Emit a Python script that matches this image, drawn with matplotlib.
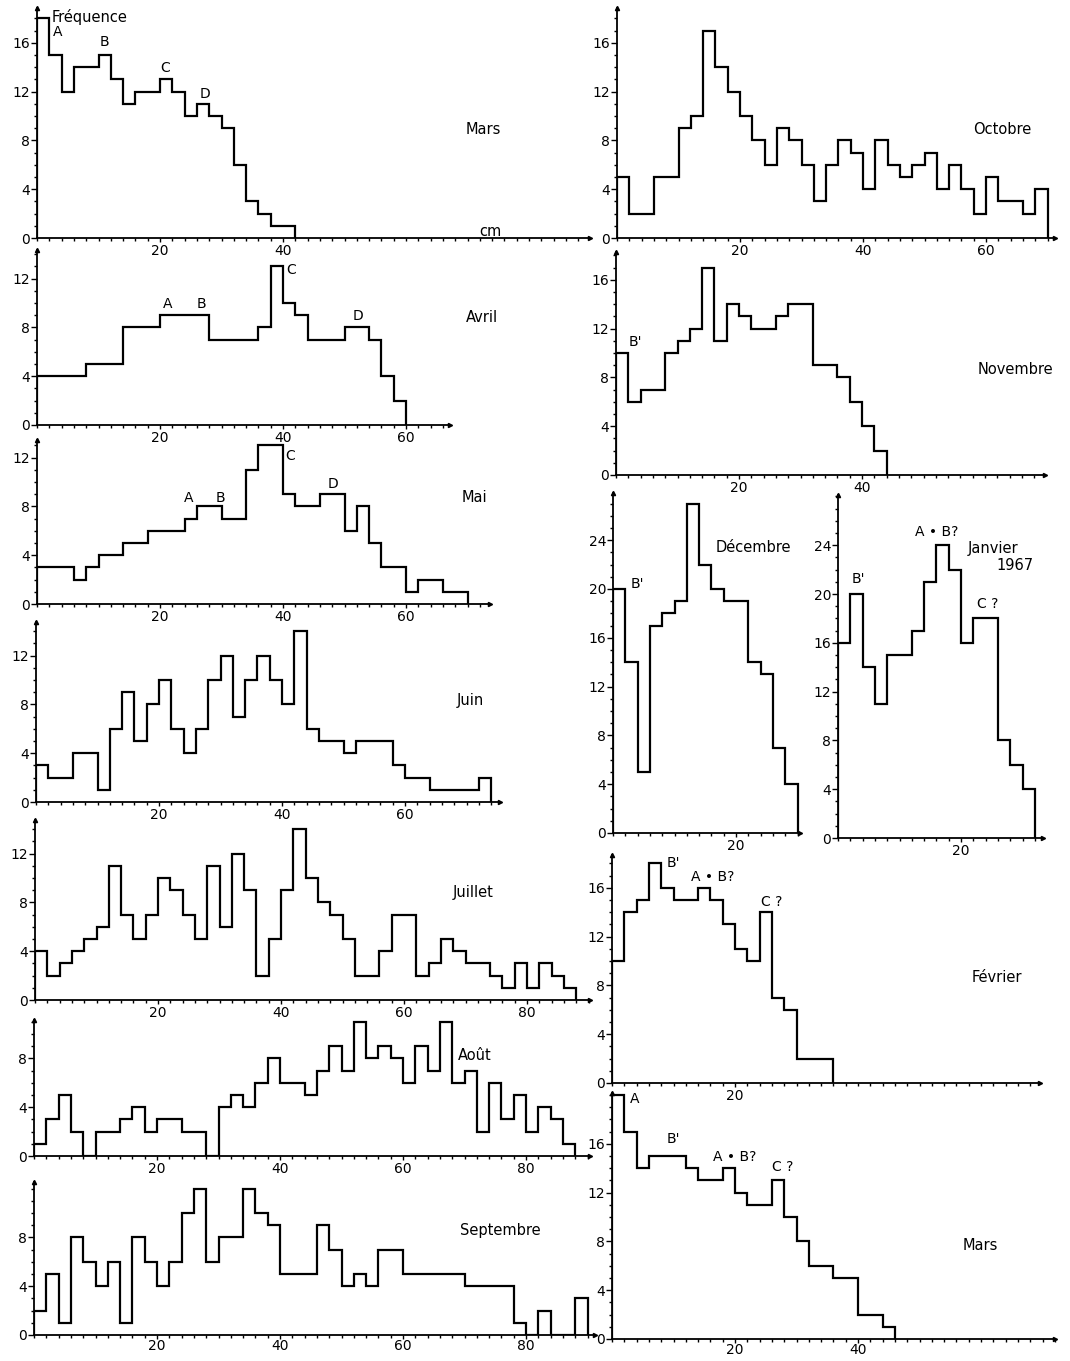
import numpy as np
import matplotlib.pyplot as plt
from matplotlib.ticker import MultipleLocator, FixedLocator

plt.rcParams['font.family'] = ['DejaVu Sans']
plt.rcParams['font.size'] = 10

W, H = 1070, 1361
PX_CM = 6.15   # pixels par cm
PX_F = 12.2    # pixels par unité de fréquence

# Fréquences par classe de 2 cm (à partir de 0 cm)
mars = [18, 15, 12, 14, 14, 15, 13, 11, 12, 12, 13, 12, 10, 11, 10, 9, 6, 3, 2, 1, 1]
avril = [4, 4, 4, 4, 5, 5, 5, 8, 8, 8, 9, 9, 9, 9, 7, 7, 7, 7, 8, 13, 10, 9, 7, 7, 7, 8, 8, 7, 4, 2]
mai = [3, 3, 3, 2, 3, 4, 4, 5, 5, 6, 6, 6, 7, 8, 8, 7, 7, 11, 13, 13, 9, 8, 8, 9, 9, 6, 8, 5, 3, 3,
       1, 2, 2, 1, 1]
juin = [3, 2, 2, 4, 4, 1, 6, 9, 5, 8, 10, 6, 4, 6, 10, 12, 7, 10, 12, 10, 8, 14, 6, 5, 5, 4, 5, 5, 5, 3,
        2, 2, 1, 1, 1, 1, 2]
juillet = [4, 2, 3, 4, 5, 6, 11, 7, 5, 7, 10, 9, 7, 5, 11, 6, 12, 9, 2, 5, 9, 14, 10, 8, 7, 5, 2, 2, 4, 7,
           7, 2, 3, 5, 4, 3, 3, 2, 1, 3, 1, 3, 2, 1]
aout = [1, 3, 5, 2, 0, 2, 2, 3, 4, 2, 3, 3, 2, 2, 0, 4, 5, 4, 6, 8, 6, 6, 5, 7, 9, 7, 11, 8, 9, 8,
        6, 9, 7, 11, 6, 7, 2, 6, 3, 5, 2, 4, 3, 1]
septembre = [2, 5, 1, 8, 6, 4, 6, 1, 8, 6, 4, 6, 10, 12, 6, 8, 8, 12, 10, 9, 5, 5, 5, 9, 7, 4, 5, 4, 7, 7,
             5, 5, 5, 5, 5, 4, 4, 4, 4, 1, 0, 2, 0, 0, 3]
octobre = [5, 2, 2, 5, 5, 9, 10, 17, 14, 12, 10, 8, 6, 9, 8, 6, 3, 6, 8, 7, 4, 8, 6, 5, 6, 7, 4, 6, 4, 2,
           5, 3, 3, 2, 4]
novembre = [10, 6, 7, 7, 10, 11, 12, 17, 11, 14, 13, 12, 12, 13, 14, 14, 9, 9, 8, 6, 4, 2]
decembre = [20, 14, 5, 17, 18, 19, 27, 22, 20, 19, 19, 14, 13, 7, 4]
janvier = [16, 20, 14, 11, 15, 15, 17, 21, 24, 22, 16, 18, 18, 8, 6, 4]
fevrier = [10, 14, 15, 18, 16, 15, 15, 16, 15, 13, 11, 10, 14, 7, 6, 2, 2, 2]
mars_2 = [20, 17, 14, 15, 15, 15, 14, 13, 13, 14, 12, 11, 11, 13, 10, 8, 6, 6, 5, 5, 2, 2, 1]

fig = plt.figure(figsize=(W / 100, H / 100), dpi=100)


def panel(vals, x0, y_bas, y_haut, x_fin, yticks, xticks, notes=(), pad_x=1):
    ax = fig.add_axes([x0 / W, 1 - y_bas / H, (x_fin - x0) / W, (y_bas - y_haut) / H])
    ax.patch.set_visible(False)
    ax.set_xlim(0, (x_fin - x0) / PX_CM)
    ax.set_ylim(0, (y_bas - y_haut) / PX_F)
    bords = np.arange(len(vals) + 1) * 2
    ax.stairs(vals, bords, color='k', lw=1.6, baseline=0)
    for s in ['top', 'right']:
        ax.spines[s].set_visible(False)
    for s in ['left', 'bottom']:
        ax.spines[s].set_linewidth(1.3)
    ax.yaxis.set_major_locator(FixedLocator(yticks))
    ax.yaxis.set_minor_locator(MultipleLocator(1))
    ax.xaxis.set_major_locator(FixedLocator(xticks))
    ax.xaxis.set_minor_locator(MultipleLocator(2))
    ax.tick_params(axis='y', which='major', direction='out', length=4, width=1, pad=1)
    ax.tick_params(axis='y', which='minor', direction='out', length=2.5, width=1)
    ax.tick_params(axis='x', which='major', direction='out', length=3, width=1, pad=pad_x)
    ax.tick_params(axis='x', which='minor', direction='out', length=2.5, width=1)
    ax.plot(1, 0, '>k', ms=3, transform=ax.transAxes, clip_on=False)
    ax.plot(0, 1, '^k', ms=3, transform=ax.transAxes, clip_on=False)
    for txt, x, y in notes:
        ax.text(x, y, txt, ha='center', va='center', fontsize=10)
    return ax


def label(txt, x, y, **kw):
    fig.text(x / W, 1 - y / H, txt, ha='center', va='center', fontsize=10.5, **kw)


# colonne de gauche
panel(mars, 37, 238, 8, 590, [0, 4, 8, 12, 16], [20, 40],
      [("A", 3.3, 16.9), ("B", 10.9, 16.1), ("C", 20.8, 13.9), ("D", 27.3, 11.8)])
panel(avril, 37, 425, 250, 450, [0, 4, 8, 12], [20, 40, 60],
      [("A", 21.3, 9.9), ("B", 26.7, 9.9), ("C", 41.3, 12.7), ("D", 52.2, 8.9)])
panel(mai, 37, 604, 440, 490, [0, 4, 8, 12], [20, 40, 60],
      [("A", 24.6, 8.7), ("B", 29.9, 8.7), ("C", 41.1, 12.1), ("D", 48.1, 9.8)])
panel(juin, 36, 802, 622, 500, [0, 4, 8, 12], [20, 40, 60])
panel(juillet, 35, 1000, 820, 590, [0, 4, 8, 12], [20, 40, 60, 80])
panel(aout, 34, 1156, 1020, 590, [0, 4, 8], [20, 40, 60, 80])
panel(septembre, 34, 1335, 1182, 595, [0, 4, 8], [20, 40, 60, 80], pad_x=0)

# colonne de droite
panel(octobre, 617, 238, 8, 1055, [0, 4, 8, 12, 16], [20, 40, 60])
panel(novembre, 616, 475, 252, 1045, [0, 4, 8, 12, 16], [20, 40],
      [("B'", 3.1, 10.9)])
panel(decembre, 613, 833, 493, 800, [0, 4, 8, 12, 16, 20, 24], [20],
      [("B'", 4.0, 20.4)])
panel(janvier, 838, 838, 495, 1043, [0, 4, 8, 12, 16, 20, 24], [20],
      [("B'", 3.3, 21.2), ("A • B?", 16.1, 25.1), ("C ?", 24.4, 19.2)])
panel(fevrier, 612, 1083, 855, 1040, [0, 4, 8, 12, 16], [20],
      [("B'", 9.9, 18.0), ("A • B?", 16.3, 16.9), ("C ?", 26.0, 14.8)])
panel(mars_2, 612, 1339, 1093, 1055, [0, 4, 8, 12, 16], [20, 40],
      [("A", 3.7, 19.7), ("B'", 9.9, 16.4), ("A • B?", 20.0, 14.9), ("C ?", 27.8, 14.1)],
      pad_x=0)

# titres des mois
label("Fréquence", 90, 17)
label("cm", 490, 232)
label("Mars", 483, 130)
label("Avril", 482, 318)
label("Mai", 474, 498)
label("Juin", 470, 700)
label("Juillet", 473, 893)
label("Août", 475, 1055)
label("Septembre", 500, 1230)
label("Octobre", 1002, 130)
label("Novembre", 1015, 370)
label("Décembre", 753, 547)
label("Janvier", 993, 548)
label("1967", 1015, 565)
label("Février", 997, 977)
label("Mars", 980, 1245)

fig.savefig("out.png", dpi=100)
